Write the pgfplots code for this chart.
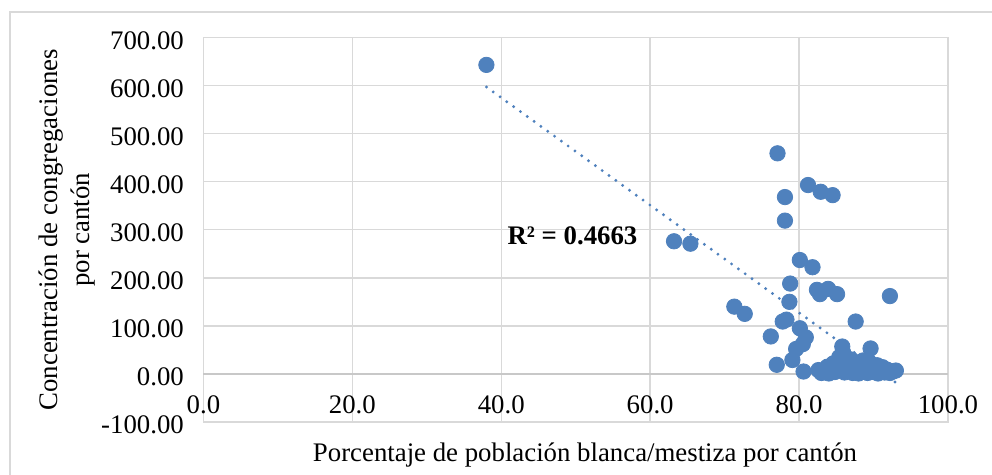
\documentclass[border=0pt]{standalone}
\usepackage{fontspec}
\setmainfont{Liberation Serif}
\usepackage{pgfplots}
\pgfplotsset{compat=1.18}

\definecolor{ptblue}{RGB}{79,129,189}
\definecolor{gridgray}{RGB}{217,217,217}
\definecolor{zerogray}{RGB}{200,200,200}

% Cantones: % poblacion blanca/mestiza vs. concentracion de congregaciones
\pgfplotstableread{
x y
38.0 643
63.2 276
65.4 271
71.3 140
72.7 125
77.1 459
78.1 368
78.1 319
81.2 393
82.9 379
84.5 372
80.1 237
81.8 222
78.8 188
78.7 150
82.4 175
82.8 166
83.9 177
85.1 166
92.2 162
77.8 109
78.3 113
87.6 109
76.2 78
80.1 95
80.9 76
80.5 62
79.6 52
85.8 57
89.6 53
77.0 19
79.1 29
80.6 5
82.6 8
93.0 7
83.0 2
83.5 6
84.0 1
84.3 12
84.8 4
85.2 20
85.4 35
85.6 9
85.9 45
86.1 3
86.3 25
86.5 14
86.8 6
87.0 30
87.2 2
87.5 18
87.7 8
88.0 1
88.2 24
88.4 11
88.7 5
89.0 16
89.2 2
89.5 9
89.8 20
90.0 4
90.3 12
90.6 1
90.9 7
91.2 14
91.5 3
91.8 9
92.2 2
92.6 5
84.6 22
83.8 15
86.0 40
88.6 28
89.3 27
90.5 18
}\cantones

\begin{document}
\begin{tikzpicture}
\useasboundingbox (-101.75pt,-26.5pt) rectangle (394.25pt,211pt);
\fill[white] (-101.75pt,-26.5pt) rectangle (394.25pt,211pt);
% chart-area frame
\draw[gridgray, line width=0.75pt] (-96.75pt,-40pt) -- (-96.75pt,205pt) -- (420pt,205pt);
\begin{axis}[
  at={(0,0)}, anchor=south west,
  scale only axis, width=372.25pt, height=192.25pt,
  xmin=0, xmax=100, ymin=-100, ymax=700,
  xtick={0,20,...,100}, ytick={-100,0,...,700},
  grid=major,
  major grid style={gridgray, line width=0.75pt},
  axis line style={gridgray, line width=0.75pt},
  major tick length=0pt,
  tick label style={font=\fontsize{13.4}{16}\selectfont},
  label style={font=\fontsize{13.4}{16}\selectfont},
  /pgf/number format/assume math mode=true,
  xticklabel={\pgfmathprintnumber[fixed,fixed zerofill,precision=1]{\tick}},
  yticklabel={\pgfmathprintnumber[fixed,fixed zerofill,precision=2]{\tick}},
  xticklabel style={yshift=16.5pt},
  yticklabel style={xshift=-6.3pt, yshift=-1.5pt},
  xlabel={Porcentaje de población blanca/mestiza por cantón},
  xlabel style={at={(axis description cs:0.5124,-0.0858)}, anchor=center},
  ylabel={Concentración de congregaciones\\por cantón},
  ylabel style={at={(axis description cs:-0.1827,0.5)}, anchor=center, align=center},
  clip=false,
]
\draw[zerogray, line width=0.9pt] (axis cs:0,0) -- (axis cs:100,0);
\addplot[only marks, mark=*, mark size=3.85pt,
  mark options={fill=ptblue, draw=ptblue}] table[x=x, y=y] {\cantones};
% linear trend line
\addplot[ptblue, line width=1.6pt, dash pattern=on 0pt off 4.2pt, line cap=round]
  coordinates {(38,597) (93,-18)};
\node[anchor=west, font=\fontsize{13.4}{16}\selectfont\bfseries]
  at (axis cs:39.9,287) {R² = 0.4663};
\end{axis}
\end{tikzpicture}
\end{document}
